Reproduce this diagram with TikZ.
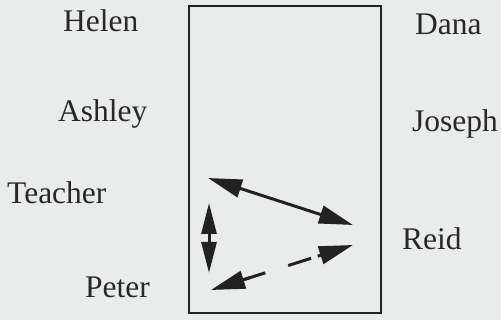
\documentclass[tikz,border=0pt]{standalone}
\usepackage{fontspec}
\newfontfamily\personfont{Liberation Serif}
\usetikzlibrary{arrows.meta,calc}
\definecolor{bgc}{RGB}{234,236,235}
\definecolor{ink}{RGB}{34,34,34}
\definecolor{txt}{RGB}{40,40,40}
\begin{document}
\begin{tikzpicture}[x=1pt,y=-1pt,
  person/.style={anchor=base west,inner sep=0pt,text=txt,font=\personfont\fontsize{31.5}{36}\selectfont},
  conn/.style={line width=3pt,draw=ink},
  bigtip/.tip={Triangle[length=34pt 0,width=18pt 0]},
  vtip/.tip={Triangle[length=31pt 0,width=15pt 0]}]
\fill[bgc] (0,0) rectangle (501,320);
\useasboundingbox (0,0) rectangle (501,320);
\draw[line width=2pt,draw=ink] (189,6) rectangle (381,313);
\node[person] (helen) at (63,32) {Helen};
\node[person] (dana) at (415,35) {Dana};
\node[person] (ashley) at (58,122) {Ashley};
\node[person] (joseph) at (412,132) {Joseph};
\node[person] (teacher) at (7,204) {Teacher};
\node[person,anchor=base east] (peter) at (150,298) {Peter};
\node[person] (reid) at (402,250) {Reid};
% arrow end points
\coordinate (ta) at (208,178);
\coordinate (ra) at (353,225);
\coordinate (tv) at (209,203);
\coordinate (pv) at (209,273);
\coordinate (pd) at (211,290);
\coordinate (rd) at (353,245);
\draw[conn,bigtip-bigtip] (ta) -- (ra);
\draw[conn,vtip-vtip] (tv) -- (pv);
% dashed double arrow
\draw[conn,-bigtip] ($(pd)!40pt!(rd)$) -- (pd);
\draw[conn] ($(pd)!30pt!(rd)$) -- ($(pd)!57pt!(rd)$);
\draw[conn] ($(pd)!81pt!(rd)$) -- ($(pd)!105pt!(rd)$);
\draw[conn,-bigtip] ($(pd)!112pt!(rd)$) -- (rd);
\end{tikzpicture}
\end{document}
